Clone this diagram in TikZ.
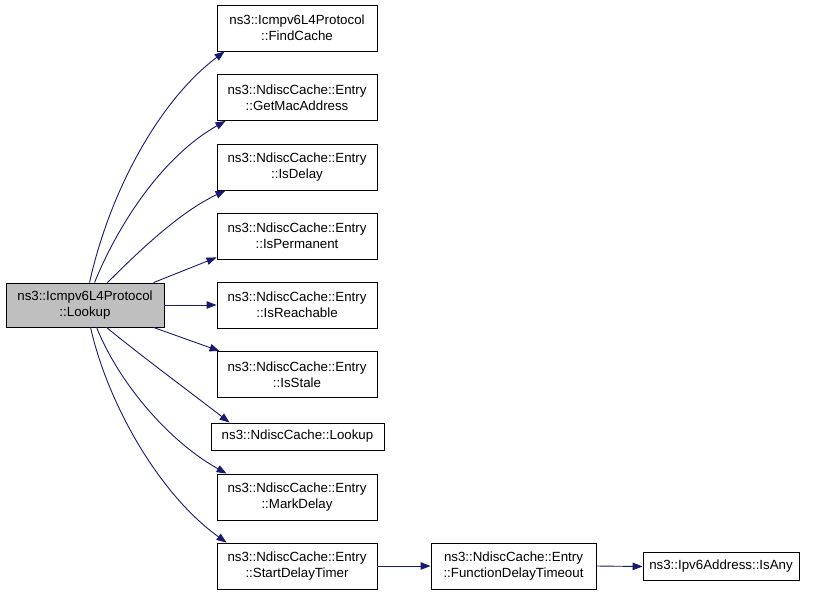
\documentclass[tikz,border=0pt]{standalone}
\usepackage{fontspec}
\setmainfont{Liberation Sans}
\usetikzlibrary{arrows.meta}
\definecolor{edgeblue}{HTML}{191970}
\definecolor{mainfill}{HTML}{BFBFBF}
\begin{document}
\begin{tikzpicture}[x=1pt,y=-1pt,
  fn/.style={draw=black,line width=0.9pt,fill=white,align=center,inner sep=0pt,
    font=\fontsize{13.3}{16}\selectfont,minimum width=160pt,minimum height=46pt},
  fnone/.style={fn,minimum height=28pt},
  edge/.style={draw=edgeblue,line width=0.9pt,-{Triangle[length=10pt,width=7.5pt]}}]
\useasboundingbox (0,0) rectangle (816,595);
\node[fn,fill=mainfill,minimum width=158pt,minimum height=44pt] (main) at (85,305) {ns3::Icmpv6L4Protocol\\::Lookup};
\node[fn] (find) at (297,28) {ns3::Icmpv6L4Protocol\\::FindCache};
\node[fn] (getmac) at (297,97.5) {ns3::NdiscCache::Entry\\::GetMacAddress};
\node[fn] (isdelay) at (297,167) {ns3::NdiscCache::Entry\\::IsDelay};
\node[fn] (isperm) at (297,236) {ns3::NdiscCache::Entry\\::IsPermanent};
\node[fn] (isreach) at (297,305) {ns3::NdiscCache::Entry\\::IsReachable};
\node[fn] (isstale) at (297,374.5) {ns3::NdiscCache::Entry\\::IsStale};
\node[fnone,minimum width=173pt,minimum height=27pt] (lookup) at (297.5,436.5) {ns3::NdiscCache::Lookup};
\node[fn] (mark) at (297,497) {ns3::NdiscCache::Entry\\::MarkDelay};
\node[fn] (start) at (297,566) {ns3::NdiscCache::Entry\\::StartDelayTimer};
\node[fn,minimum width=165pt] (fdt) at (513.5,566) {ns3::NdiscCache::Entry\\::FunctionDelayTimeout};
\node[fnone,minimum width=156pt] (isany) at (721,566.5) {ns3::Ipv6Address::IsAny};
% edges
\draw[edge] ([xshift=84pt]main.north west) .. controls (110,190) and (160,100) .. ([xshift=8pt]find.south west);
\draw[edge] ([xshift=89pt]main.north west) .. controls (120,220) and (165,155) .. ([xshift=9pt]getmac.south west);
\draw[edge] ([xshift=102pt]main.north west) .. controls (140,250) and (180,212) .. ([xshift=9pt]isdelay.south west);
\draw[edge] ([xshift=148pt]main.north west) -- ([yshift=2pt]isperm.south west);
\draw[edge] (main.east) -- (isreach.west);
\draw[edge] ([xshift=148pt]main.south west) -- ([xshift=3pt]isstale.north west);
\draw[edge] ([xshift=101pt]main.south west) .. controls (140,355) and (190,392) .. ([xshift=19pt]lookup.north west);
\draw[edge] ([xshift=91pt]main.south west) .. controls (120,385) and (170,442) .. ([xshift=10pt]mark.north west);
\draw[edge] ([xshift=85pt]main.south west) .. controls (108,405) and (160,495) .. ([xshift=10pt]start.north west);
\draw[edge] (start.east) -- (fdt.west);
\draw[edge] (fdt.east) -- (isany.west);
\end{tikzpicture}
\end{document}
